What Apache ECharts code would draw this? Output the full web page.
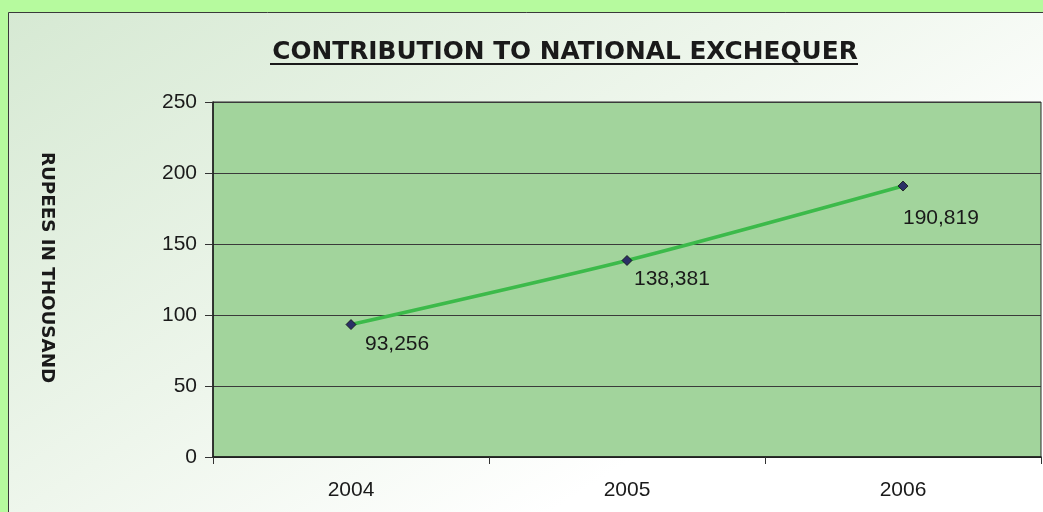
<!DOCTYPE html>
<html><head><meta charset="utf-8">
<script src="https://cdn.jsdelivr.net/npm/echarts@6/dist/echarts.min.js"></script>
<style>html,body{margin:0;padding:0;}#c{width:1043px;height:512px;}</style>
</head><body><div id="c"></div>
<script>
const titleText = 'CONTRIBUTION TO NATIONAL EXCHEQUER';
const yAxisName = 'RUPEES IN THOUSAND';
const years = ['2004', '2005', '2006'];
const values = [93.256, 138.381, 190.819];
const valueLabels = ['93,256', '138,381', '190,819'];
const labelOffsets = [[14, 20], [7, 19], [0, 32]];

const chart = echarts.init(document.getElementById('c'), null, {renderer: 'canvas'});
const option = {
  backgroundColor: '#b6fa9e',
  animation: false,
  graphic: [
    {type: 'rect', z: -10, shape: {x: 8.5, y: 12.5, width: 1100, height: 600},
     style: {stroke: '#3a3a3a', lineWidth: 1,
       fill: {type: 'linear', x: 0, y: 0, x2: 0.35, y2: 1, colorStops: [
         {offset: 0, color: '#d6e9d3'}, {offset: 0.6, color: '#eef6ec'}, {offset: 1, color: '#ffffff'}]}}},
    {type: 'line', z: 10, shape: {x1: 270, y1: 64, x2: 858, y2: 64},
     style: {stroke: '#1a1a1a', lineWidth: 2}, silent: true},
    {type: 'text', z: 10, x: 47, y: 267.5, rotation: -Math.PI / 2,
     style: {text: yAxisName, align: 'center', verticalAlign: 'middle',
             font: 'bold 18.3px "DejaVu Sans"', fill: '#1a1a1a'}}
  ],
  title: {
    text: titleText, left: 564, top: 35, textAlign: 'center',
    textStyle: {fontFamily: 'DejaVu Sans', fontWeight: 'bold', fontSize: 24.8, color: '#1a1a1a'}
  },
  grid: {left: 213, top: 102, right: 2, bottom: 55, show: true, backgroundColor: '#a2d49c',
         borderColor: '#2a2a2a', borderWidth: 1},
  xAxis: {
    type: 'category', data: years, boundaryGap: true,
    axisLine: {lineStyle: {color: '#1a1a1a', width: 1.5}},
    axisTick: {show: true, length: 7, lineStyle: {color: '#333'}},
    axisLabel: {margin: 23, fontFamily: 'Liberation Sans', fontSize: 21, color: '#1a1a1a'}
  },
  yAxis: {
    type: 'value', min: 0, max: 250, interval: 50,
    axisLine: {show: true, lineStyle: {color: '#1a1a1a', width: 1.5}},
    axisTick: {show: true, length: 8, lineStyle: {color: '#333'}},
    axisLabel: {margin: 16, fontFamily: 'Liberation Sans', fontSize: 21, color: '#1a1a1a'},
    splitLine: {show: true, lineStyle: {color: '#3a3a3a', width: 1}}
  },
  series: [{
    type: 'line', smooth: 0.25,
    data: values.map((v, i) => ({
      value: v,
      label: {show: true, position: 'inside', align: 'left', verticalAlign: 'middle',
              offset: labelOffsets[i], formatter: valueLabels[i]}
    })),
    lineStyle: {color: '#3cba4a', width: 3.5},
    symbol: 'diamond', symbolSize: 10,
    itemStyle: {color: '#2b2f66', borderColor: '#111', borderWidth: 0.8},
    label: {fontFamily: 'Liberation Sans', fontSize: 21, color: '#1a1a1a'}
  }]
};
option.title.left = 560;
chart.setOption(option);
</script></body></html>
